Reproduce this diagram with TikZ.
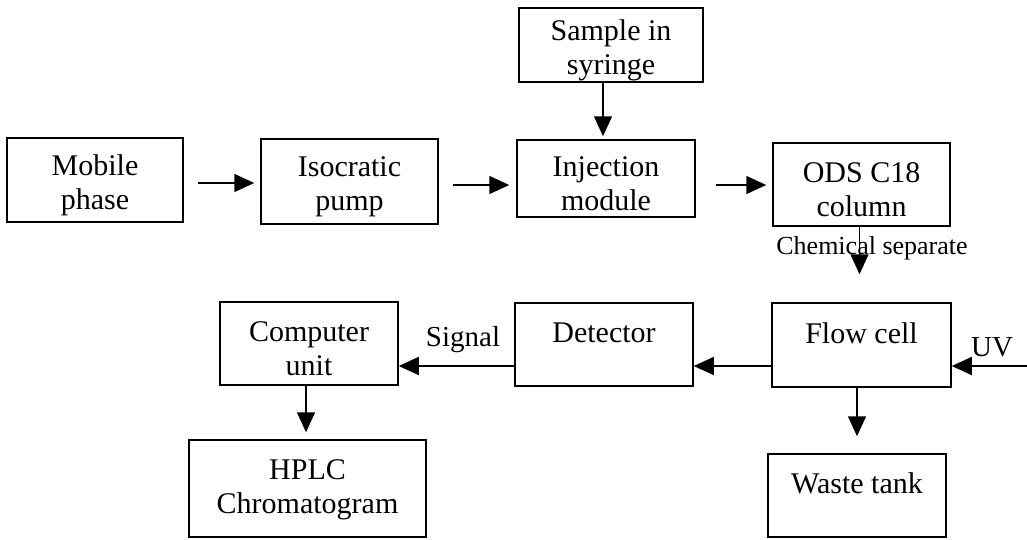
\documentclass[tikz,border=0pt]{standalone}
\usepackage{fontspec}
\setmainfont{Liberation Serif}
\usetikzlibrary{arrows.meta,calc}
\begin{document}
\begin{tikzpicture}[x=1pt,y=-1pt,
  box/.style={draw,line width=1.5pt,inner sep=0pt},
  txt/.style={inner sep=0pt,align=center,yshift=-5pt,
    font=\fontsize{30}{34}\selectfont},
  arr/.style={line width=1.5pt,-{Triangle[length=20pt,width=18pt]}},
  lbl/.style={inner sep=0pt,font=\fontsize{29}{34}\selectfont}]
\useasboundingbox (0,0) rectangle (1027,539);
\node[box,minimum width=176pt,minimum height=84pt,label={[txt,name=tmobile]center:Mobile\\phase}] (mobile) at (95,180) {};
\node[box,minimum width=177pt,minimum height=85pt,label={[txt,name=tpump]center:Isocratic\\pump}] (pump) at (349.5,181.5) {};
\node[box,minimum width=178pt,minimum height=77pt,label={[txt,name=tinj]center:Injection\\module}] (inj) at (606,178.5) {};
\node[box,minimum width=184pt,minimum height=74pt,label={[txt,name=tsample]center:Sample in\\syringe}] (sample) at (611,45) {};
\node[box,minimum width=177pt,minimum height=83pt,label={[txt,name=tods]center:ODS C18\\column}] (ods) at (861.5,184.5) {};
\node[box,minimum width=179pt,minimum height=84pt,label={[txt,name=tflow]center:Flow cell\\\mbox{}}] (flow) at (861.5,345) {};
\node[box,minimum width=178pt,minimum height=83pt,label={[txt,name=tdet]center:Detector\\\mbox{}}] (det) at (604,344.5) {};
\node[box,minimum width=178pt,minimum height=83pt,label={[txt,name=tcomp]center:Computer\\unit}] (comp) at (309,343.5) {};
\node[box,minimum width=237pt,minimum height=97pt,label={[txt,yshift=4pt,name=thplc]center:HPLC\\Chromatogram}] (hplc) at (307.5,488.5) {};
\node[box,minimum width=178pt,minimum height=83pt,label={[txt,name=twaste]center:Waste tank\\\mbox{}}] (waste) at (857,495.5) {};
\node[lbl,font=\fontsize{26}{30}\selectfont] (chem) at (872,248) {Chemical separate};
\node[lbl] (sig) at (463,340) {Signal};
\node[lbl] (uv) at (992,347) {UV};
\coordinate (uvsrc) at (1027,366);
\draw[arr,shorten >=6pt] ([xshift=14pt,yshift=-3pt]mobile.east) -- ([yshift=-3pt]mobile.east -| pump.west);
\draw[arr,shorten >=7pt] ([xshift=14pt,yshift=-3.5pt]pump.east) -- ([yshift=-3.5pt]pump.east -| inj.west);
\draw[arr,shorten >=6pt] ([xshift=20pt,yshift=-6.5pt]inj.east) -- ([yshift=-6.5pt]inj.east -| ods.west);
\draw[arr,shorten >=3pt] ([xshift=-8pt]sample.south) -- ([xshift=-3pt]inj.north);
\draw[arr,shorten >=28pt] ([xshift=-2pt]ods.south) -- ([xshift=-2pt]ods.south |- flow.north);
\draw[arr] (uvsrc) -- (uvsrc -| flow.east);
\draw[arr] ([yshift=-21pt]flow.west) -- ([yshift=-21pt]flow.west -| det.east);
\draw[arr] ([yshift=-21.5pt]det.west) -- ([yshift=-21.5pt]det.west -| comp.east);
\draw[arr,shorten >=7pt] ([xshift=-3pt]comp.south) -- ([xshift=-3pt]comp.south |- hplc.north);
\draw[arr,shorten >=17pt] (flow.south -| waste.north) -- (waste.north);
\end{tikzpicture}
\end{document}
